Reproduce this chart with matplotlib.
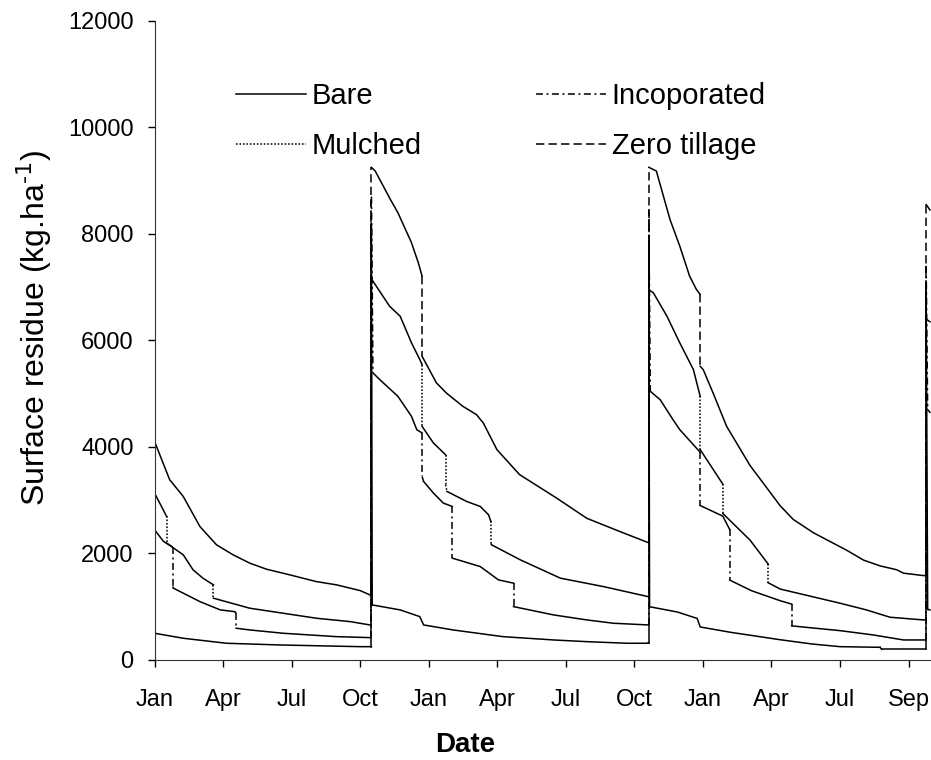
import numpy as np
import matplotlib
matplotlib.use('Agg')
import matplotlib.pyplot as plt
from matplotlib.lines import Line2D

plt.rcParams['font.family'] = ['Liberation Sans', 'DejaVu Sans']
plt.rcParams['lines.scale_dashes'] = False

# days counted from 1 Jan of the first year
zt_day = [0, 20, 38, 60, 82, 104, 126, 148, 179, 214, 241, 272, 285, 287, 287, 292, 312, 322, 340, 349,
          354, 354, 373, 386, 408, 426, 435, 453, 483, 532, 572, 616, 653, 654, 654, 664, 682, 695, 708, 717,
          722, 722, 726, 739, 757, 788, 828, 845, 872, 916, 938, 960, 982, 991, 1017, 1021, 1021, 1026]
zt_val = [4104, 3384, 3070, 2506, 2162, 1974, 1818, 1705, 1598, 1472, 1410, 1303, 1222, 1222, 9250, 9180, 8648, 8398, 7834, 7458,
          7206, 5702, 5202, 5014, 4762, 4606, 4450, 3950, 3480, 3040, 2660, 2410, 2205, 2205, 9250, 9180, 8272, 7770, 7206, 6956,
          6862, 5514, 5452, 5014, 4386, 3650, 2893, 2640, 2387, 2059, 1876, 1767, 1694, 1630, 1585, 1585, 8550, 8450]

mul_day = [0, 16, 16, 38, 51, 64, 78, 78, 126, 170, 214, 259, 285, 287, 287, 289, 311, 325, 340, 351,
           354, 354, 369, 385, 385, 387, 413, 431, 442, 445, 445, 446, 484, 537, 594, 653, 654, 654, 660, 678,
           695, 713, 722, 722, 752, 752, 788, 812, 812, 828, 907, 942, 973, 1017, 1021, 1021, 1026]
mul_val = [3134, 2694, 2194, 1974, 1692, 1536, 1410, 1160, 972, 878, 784, 720, 658, 658, 7112, 7112, 6642, 6454, 5954, 5640,
           5546, 4386, 4074, 3854, 3290, 3164, 2976, 2882, 2726, 2600, 2194, 2162, 1880, 1536, 1378, 1190, 1190, 6950, 6894, 6454,
           5954, 5452, 4950, 3950, 3300, 2750, 2250, 1800, 1450, 1331, 1066, 940, 803, 752, 752, 6400, 6350]

inc_day = [0, 12, 23, 24, 24, 25, 60, 87, 106, 108, 108, 126, 170, 241, 285, 287, 287, 289, 298, 322,
           340, 347, 354, 354, 356, 369, 382, 394, 394, 431, 455, 475, 475, 528, 572, 607, 653, 654, 654, 656,
           669, 686, 695, 722, 722, 752, 761, 761, 790, 828, 843, 843, 907, 951, 991, 1021, 1021, 1023, 1026]
inc_val = [2444, 2224, 2130, 2130, 1378, 1348, 1096, 940, 908, 880, 596, 564, 502, 438, 420, 420, 8700, 5390, 5264, 4950,
           4574, 4324, 4262, 3446, 3352, 3134, 2946, 2882, 1912, 1754, 1504, 1442, 1002, 846, 752, 690, 658, 658, 8460, 5044,
           4888, 4512, 4324, 3900, 2900, 2700, 2450, 1500, 1300, 1112, 1050, 640, 551, 470, 376, 376, 7400, 4700, 4650]

bare_day = [0, 38, 95, 166, 272, 287, 287, 288, 325, 351, 356, 395, 461, 528, 572, 625, 653, 654, 654, 655,
            692, 718, 722, 762, 828, 870, 907, 960, 962, 1017, 1021, 1021, 1023, 1026]
bare_val = [502, 408, 314, 282, 250, 250, 8180, 1034, 940, 814, 658, 564, 438, 376, 344, 314, 314, 314, 7864, 1000,
            900, 780, 620, 520, 380, 300, 250, 238, 201, 201, 201, 7000, 950, 940]

month_labels = ['Jan', 'Apr', 'Jul', 'Oct', 'Jan', 'Apr', 'Jul', 'Oct', 'Jan', 'Apr', 'Jul', 'Sep']

styles = {'Bare': '-',
          'Incoporated': (0, (5, 2.5, 1.5, 2.5)),
          'Mulched': (0, (1.2, 1.3)),
          'Zero tillage': (0, (6, 3))}
lw = 1.1


def trace(ax, d, v, ls):
    # SigmaPlot look: the daily curve reads solid, only the jumps show the dash style
    d = np.array(d)
    v = np.array(v)
    start = 0
    for i in range(len(d) - 1):
        if d[i + 1] - d[i] <= 2:
            if i > start:
                ax.plot(d[start:i + 1], v[start:i + 1], color='k', lw=lw, ls='-')
            ax.plot(d[i:i + 2], v[i:i + 2], color='k', lw=lw, ls=ls)
            start = i + 1
    if start < len(d) - 1:
        ax.plot(d[start:], v[start:], color='k', lw=lw, ls='-')


fig = plt.figure(figsize=(9.31, 7.6), dpi=100)
ax = fig.add_axes([0.166, 0.1316, 0.834, 0.841])

trace(ax, bare_day, bare_val, styles['Bare'])
trace(ax, inc_day, inc_val, styles['Incoporated'])
trace(ax, mul_day, mul_val, styles['Mulched'])
trace(ax, zt_day, zt_val, styles['Zero tillage'])

ax.set_xlim(0, 1027.4)
ax.set_ylim(0, 12000)
ax.set_xticks(np.arange(12) * 90.7)
ax.set_xticklabels(month_labels)
ax.set_yticks(np.arange(0, 12001, 2000))
ax.tick_params(axis='both', direction='out', length=5, width=1, labelsize=17)
ax.tick_params(axis='x', pad=16)
ax.tick_params(axis='y', pad=10)
for s in ['top', 'right']:
    ax.spines[s].set_visible(False)
for s in ['left', 'bottom']:
    ax.spines[s].set_color('#333333')

ax.set_ylabel(r'Surface residue (kg.ha$^{\text{-1}}$)', fontsize=23)
ax.yaxis.set_label_coords(-0.13, 0.52)
ax.set_xlabel('Date', fontsize=20, fontweight='bold')
ax.xaxis.set_label_coords(0.40, -0.112)

order = ['Bare', 'Mulched', 'Incoporated', 'Zero tillage']
handles = [Line2D([], [], color='k', lw=lw, ls=styles[k]) for k in order]
fig.legend(handles, order, ncol=2, frameon=False, fontsize=21,
           loc='upper left', bbox_to_anchor=(0.2535, 0.892), borderpad=0, borderaxespad=0,
           handlelength=2.4, handletextpad=0.2, columnspacing=3.9, labelspacing=0.75)

fig.savefig('out.png', dpi=100)
